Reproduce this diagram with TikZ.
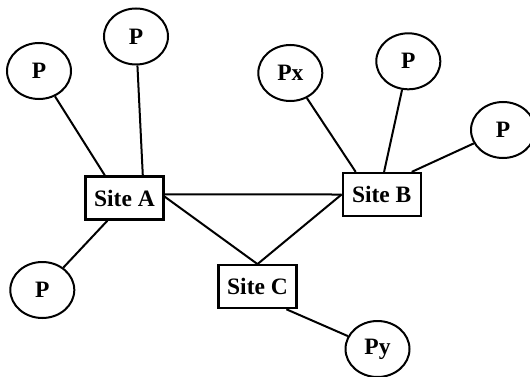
\documentclass[tikz,border=0pt]{standalone}
\usepackage{fontspec}
\setmainfont{Liberation Serif}
\usetikzlibrary{shapes.geometric}

\begin{document}
\begin{tikzpicture}[x=1pt,y=-1pt,
  peer/.style={ellipse, draw, line width=2pt, minimum width=64pt, minimum height=56pt, inner sep=0pt,
    font=\fontsize{23.5}{26}\selectfont\bfseries},
  site/.style={rectangle, draw, line width=2.2pt, minimum width=78pt, minimum height=43pt, inner sep=0pt,
    font=\fontsize{23.5}{26}\selectfont\bfseries},
  link/.style={line width=2pt}]
\useasboundingbox (0,0) rectangle (530,377);

% sites
\node[site] (A) at (124.5,198) {Site A};
\node[site] (B) at (381.7,194.5) {Site B};
\node[site] (C) at (257.5,286.7) {Site C};

% peers
\node[peer] (p1) at (39,71) {P};
\node[peer] (p2) at (136,36.5) {P};
\node[peer] (p3) at (42.3,290) {P};
\node[peer] (px) at (290.3,73) {Px};
\node[peer] (p4) at (408.3,61.3) {P};
\node[peer] (p5) at (503,130) {P};
\node[peer] (py) at (377.5,349) {Py};

% links between sites
\draw[link] (A.5) -- (B.west);
\draw[link] (A.2) -- (C.north);
\draw[link] (B.west) -- (C.north);

% links from sites to peers
\draw[link] (p1) -- (A.131);
\draw[link] (p2) -- (A.51);
\draw[link] (p3) -- (A.233.6);
\draw[link] (px) -- (B.139.8);
\draw[link] (p4) -- (B.84);
\draw[link] (p5) -- (B.37.9);
\draw[link] (py) -- (C.322.8);
\end{tikzpicture}
\end{document}
